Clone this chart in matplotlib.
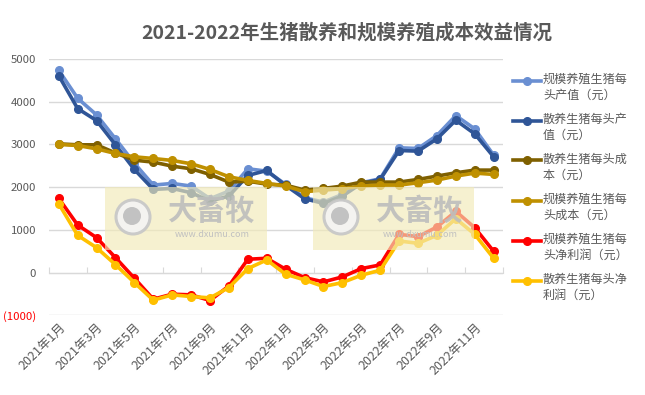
import matplotlib
matplotlib.use("Agg")
import matplotlib.pyplot as plt
from matplotlib.lines import Line2D
from matplotlib.patches import Rectangle, Ellipse

plt.rcParams['font.family'] = ['Noto Sans CJK SC', 'DejaVu Sans']

months = [f"{y}年{m}月" for y in (2021, 2022) for m in range(1, 13)]

scale_value = [4735, 4081, 3692, 3131, 2560, 2048, 2087, 2025, 1729, 1908, 2430, 2375,
               2064, 1752, 1651, 1830, 2103, 2196, 2921, 2905, 3209, 3676, 3364, 2749]
free_value = [4611, 3840, 3559, 2991, 2414, 1947, 1970, 1869, 1674, 1791, 2274, 2390,
              2040, 1729, 1620, 1791, 2087, 2181, 2858, 2843, 3131, 3567, 3248, 2710]
free_cost = [3014, 2991, 2991, 2800, 2632, 2586, 2492, 2430, 2297, 2118, 2140, 2070,
             2048, 1931, 1970, 2025, 2118, 2118, 2118, 2181, 2259, 2336, 2399, 2399]
scale_cost = [3000, 2975, 2897, 2788, 2710, 2671, 2625, 2547, 2414, 2243, 2157, 2087,
              2025, 1893, 1931, 1963, 2025, 2048, 2048, 2103, 2165, 2259, 2329, 2298]
scale_profit = [1737, 1114, 818, 350, -132, -623, -506, -522, -654, -312, 312, 335,
                78, -117, -218, -101, 93, 179, 896, 841, 1067, 1433, 1051, 498]
free_profit = [1612, 872, 584, 187, -234, -646, -522, -561, -592, -350, 93, 296,
               -39, -171, -327, -234, -62, 55, 740, 685, 872, 1262, 896, 335]

series = [
    ("规模养殖生猪每\n头产值（元）", scale_value, "#6A8FD2"),
    ("散养生猪每头产\n值（元）", free_value, "#2F5597"),
    ("散养生猪每头成\n本（元）", free_cost, "#7F6000"),
    ("规模养殖生猪每\n头成本（元）", scale_cost, "#BF9000"),
    ("规模养殖生猪每\n头净利润（元）", scale_profit, "#FF0000"),
    ("散养生猪每头净\n利润（元）", free_profit, "#FFC000"),
]
yticks = [-1000, 0, 1000, 2000, 3000, 4000, 5000]
ytick_labels = ["(1000)", "0", "1000", "2000", "3000", "4000", "5000"]

W, H = 645, 395
fig = plt.figure(figsize=(W / 100, H / 100), dpi=100)
ax = fig.add_axes([0.0764, 0.2018, 0.7036, 0.6488])
x = list(range(len(months)))

draw_order = [1, 0, 2, 3, 4, 5]
for i in draw_order:
    lab, vals, col = series[i]
    ax.plot(x, vals, color=col, lw=2.6, marker='o', ms=5.5, zorder=3 + i * 0.1)

ax.set_xlim(-0.5, len(months) - 0.5)
ax.set_ylim(-1000, 5000)
ax.set_yticks(yticks)
ax.set_yticklabels(ytick_labels)
for t, v in zip(ax.get_yticklabels(), yticks):
    t.set_color("#FF0000" if v < 0 else "#595959")
ax.tick_params(axis='y', length=0, pad=9.5, labelsize=8.2)
ax.grid(axis='y', color="#D9D9D9", lw=1, zorder=0)
for s in ('top', 'right', 'left'):
    ax.spines[s].set_visible(False)
ax.spines['bottom'].set_position(('data', 0))
ax.spines['bottom'].set_color("#D9D9D9")
ax.set_xticks([v - 0.5 for v in x[::2]] + [len(months) - 0.5])
ax.tick_params(axis='x', direction='in', length=4, color="#D9D9D9", labelbottom=False)

sec = ax.secondary_xaxis('bottom')
sec.spines['bottom'].set_visible(False)
sec.set_xticks(x[::2])
sec.set_xticklabels(months[::2], rotation=45, ha='right', rotation_mode='anchor',
                    color="#595959", fontsize=9)
sec.tick_params(length=0, pad=4)

# watermarks
for (x0, x1) in [(105, 267), (313, 474)]:
    fig.add_artist(Rectangle((x0 / W, 1 - 250 / H), (x1 - x0) / W, 63 / H,
                             transform=fig.transFigure, facecolor="#F2EAB8", alpha=0.65,
                             edgecolor='none', zorder=5))
    cx, cy = x0 + 28, 217
    fig.add_artist(Ellipse((cx / W, 1 - cy / H), 34 / W, 34 / H, transform=fig.transFigure,
                           facecolor="#F4F4F4", edgecolor="#C6C6C6", lw=2.2, alpha=0.9, zorder=6))
    fig.add_artist(Ellipse(((cx - 1) / W, 1 - (cy - 1) / H), 18 / W, 18 / H,
                           transform=fig.transFigure, facecolor="#BDBDBD",
                           edgecolor='none', alpha=0.9, zorder=6))
    fig.text((x0 + 107) / W, 1 - 211 / H, "大畜牧", fontsize=21, fontweight='bold',
             color="#BDBDBD", alpha=0.9, ha='center', va='center', zorder=7)
    fig.text((x0 + 107) / W, 1 - 234 / H, "www.dxumu.com", fontsize=6.5,
             color="#C0C0C0", ha='center', va='center', zorder=7)

# legend
for k, (lab, vals, col) in enumerate(series):
    yy = 1 - (80.5 + 40 * k) / H
    fig.add_artist(Line2D([513 / W, 541 / W], [yy, yy], transform=fig.transFigure,
                          color=col, lw=2.6))
    fig.add_artist(Line2D([527 / W], [yy], transform=fig.transFigure, color=col,
                          marker='o', ms=5.5))
    fig.text(543 / W, yy + 8 / H, lab, fontsize=8.7, color="#595959", va='top',
             ha='left', linespacing=1.35)

fig.text(347 / W, 1 - 32.5 / H, "2021-2022年生猪散养和规模养殖成本效益情况",
         fontsize=14, fontweight='bold', color="#595959", ha='center', va='center')

fig.savefig("out.png", dpi=100)
